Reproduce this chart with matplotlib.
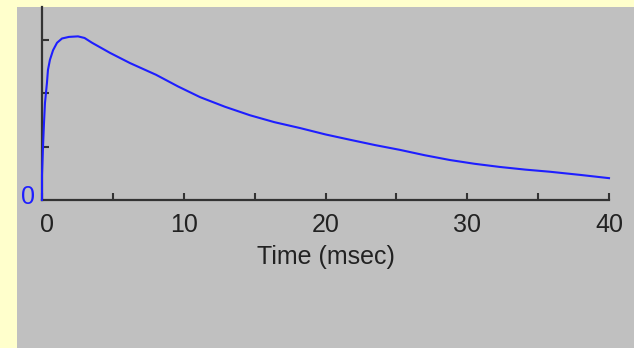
import matplotlib
matplotlib.use("Agg")
import matplotlib.pyplot as plt
from matplotlib.transforms import ScaledTranslation

# Values
time_ms = [0.0, 0.0, 0.07, 0.14, 0.21, 0.35, 0.42, 0.56, 0.78, 1.06, 1.41, 1.9,
           2.54, 3.0, 3.53, 4.8, 6.2, 7.62, 8.04, 9.6, 11.15, 12.9, 14.67, 16.4,
           18.2, 20.0, 21.73, 23.5, 25.26, 27.0, 28.78, 30.5, 32.3, 34.1, 35.84,
           38.0, 40.0]
response = [0.0, 0.47, 0.99, 1.44, 1.82, 2.20, 2.44, 2.63, 2.81, 2.95, 3.03, 3.06,
            3.07, 3.04, 2.95, 2.76, 2.57, 2.40, 2.35, 2.13, 1.93, 1.75, 1.59, 1.46,
            1.35, 1.23, 1.13, 1.03, 0.94, 0.84, 0.75, 0.68, 0.62, 0.57, 0.53,
            0.47, 0.41]
xticks = [0, 5, 10, 15, 20, 25, 30, 35, 40]
xticklabels = ["0", "", "10", "", "20", "", "30", "", "40"]
yticks = [1, 2, 3]
x_label = "Time (msec)"

W, H = 634, 348
fig = plt.figure(figsize=(W / 100, H / 100), dpi=100)
fig.patch.set_facecolor("#FFFFCC")

bg = fig.add_axes([17 / W, 0, 1 - 17 / W, 1 - 7 / H])
bg.set_axis_off()
bg.add_artist(plt.Rectangle((0, 0), 1, 1, transform=bg.transAxes,
                            facecolor="#C0C0C0", edgecolor="none"))

ax = fig.add_axes([42 / W, 1 - 200 / H, (609 - 42) / W, (200 - 7) / H])
ax.set_facecolor("none")
ax.plot(time_ms, response, color="#1E1EFF", lw=1.5, clip_on=False, zorder=3)
ax.set_xlim(0, 40)
ax.set_ylim(0, 193 / 53.3)
for s in ["top", "right"]:
    ax.spines[s].set_visible(False)
for s in ["left", "bottom"]:
    ax.spines[s].set_color("#333333")
    ax.spines[s].set_linewidth(1.6)
ax.set_xticks(xticks)
ax.set_xticklabels(xticklabels)
ax.set_yticks(yticks)
ax.set_yticklabels([])
ax.tick_params(axis="both", direction="in", length=5, width=1.5, color="#333333")
ax.tick_params(axis="x", labelsize=18, labelcolor="#222222", pad=9)
for lab in ax.get_xticklabels():
    lab.set_family("Liberation Sans")
first = ax.get_xticklabels()[0]
first.set_transform(first.get_transform() +
                    ScaledTranslation(5 / 100, 0, fig.dpi_scale_trans))
ax.set_xlabel(x_label, fontsize=18, family="Liberation Sans", color="#222222",
              labelpad=6)
ax.text(-14 / 567 * 40, 0.05, "0", color="#1E1EFF", fontsize=18,
        family="Liberation Sans", ha="center", va="center", clip_on=False)

fig.savefig("out.png", dpi=100, facecolor=fig.get_facecolor())
